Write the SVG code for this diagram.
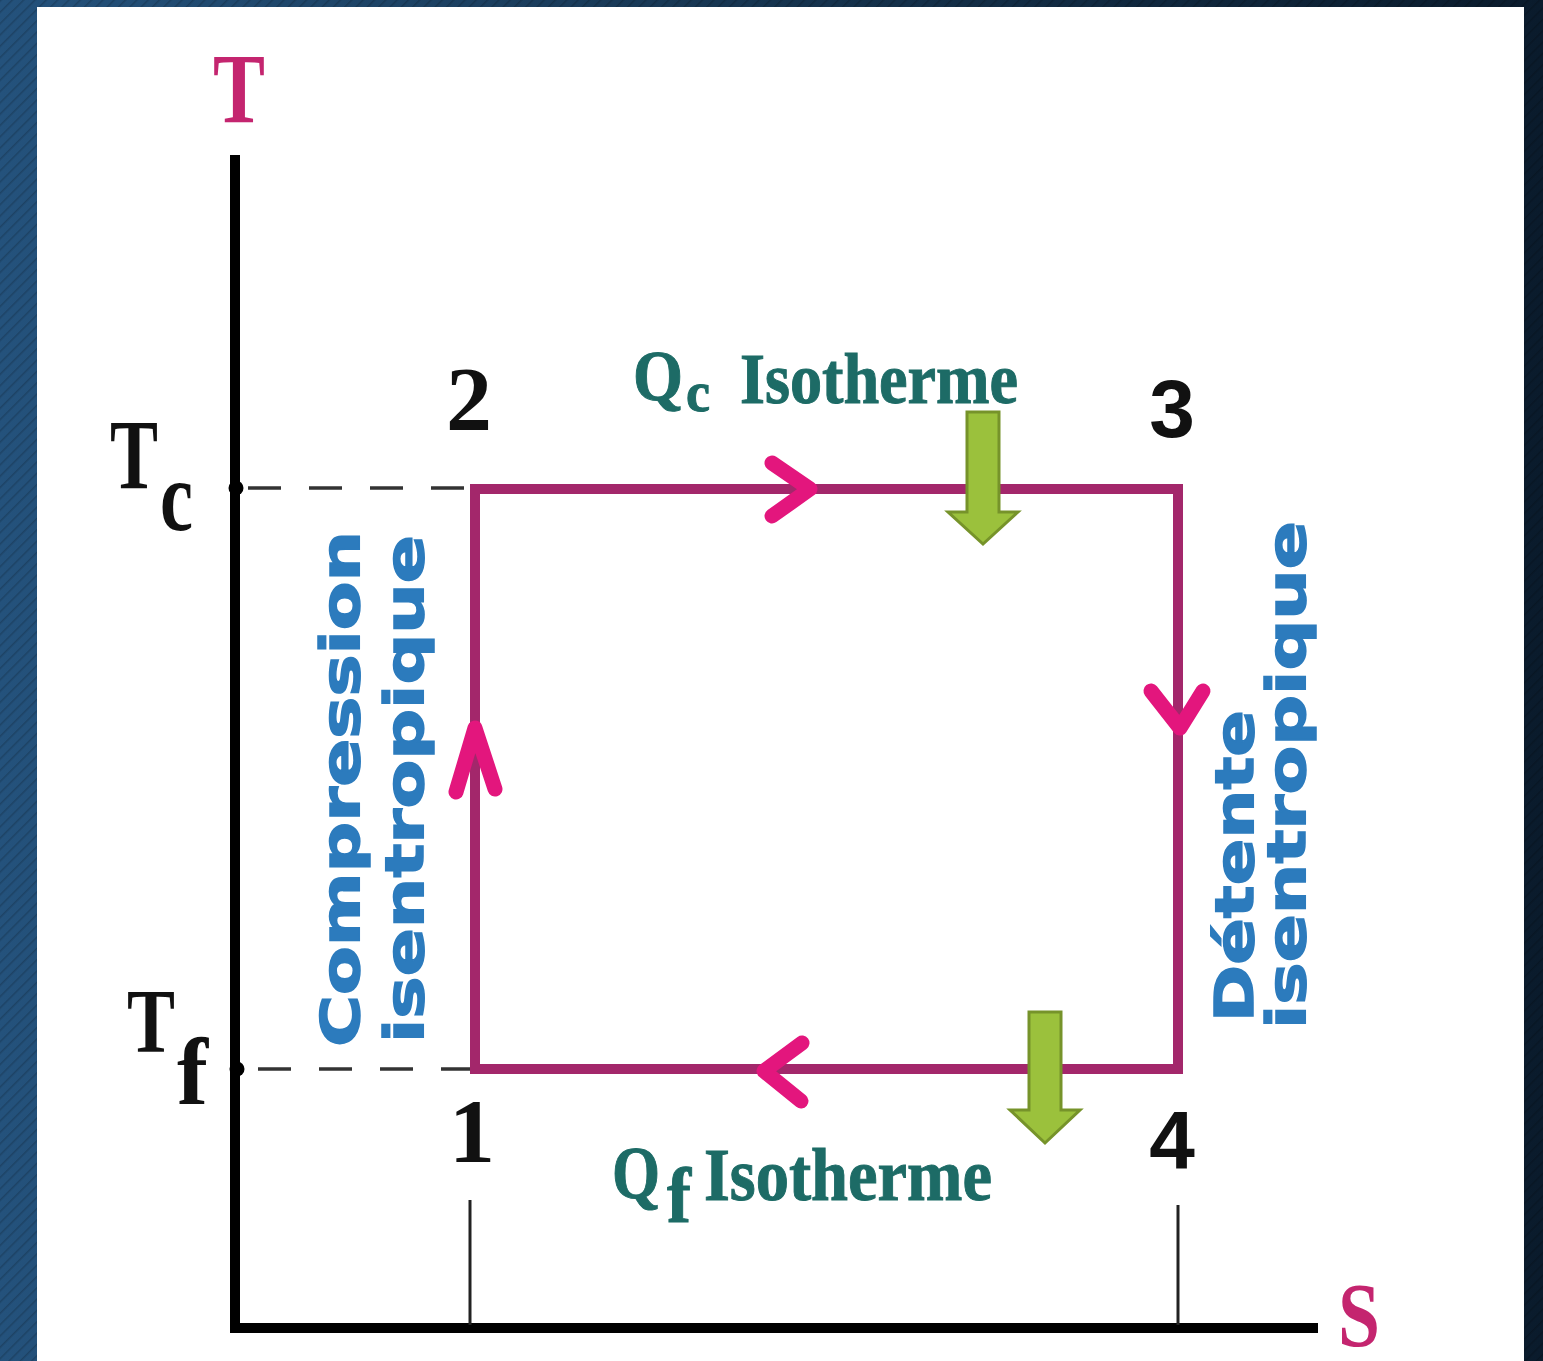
<svg xmlns="http://www.w3.org/2000/svg" width="1543" height="1361" viewBox="0 0 1543 1361">
<defs>
<linearGradient id="bg" x1="0" y1="0" x2="1" y2="0">
<stop offset="0" stop-color="#24527c"/>
<stop offset="0.5" stop-color="#16344f"/>
<stop offset="1" stop-color="#0a1b2c"/>
</linearGradient>
<pattern id="tex" width="8" height="8" patternUnits="userSpaceOnUse" patternTransform="rotate(45)">
<line x1="0" y1="0" x2="0" y2="8" stroke="#000" stroke-opacity="0.18" stroke-width="3"/>
</pattern>
</defs>
<style>
.serif{font-family:"Liberation Serif","Times New Roman",serif;font-weight:bold}
.sans{font-family:"Liberation Sans",Arial,sans-serif;font-weight:bold}
.vert{font-family:"DejaVu Sans","Liberation Sans",sans-serif;font-weight:bold;fill:#2c7bbd;stroke:#2c7bbd;stroke-width:1.5;font-size:54px}
.pink{fill:#c4256f}
.teal{fill:#1d6b66;stroke:#1d6b66;stroke-width:1}
.black{fill:#111}
.cycle{fill:none;stroke:#a3276b;stroke-width:10}
.chev{fill:none;stroke:#e3167d;stroke-width:15;stroke-linecap:round;stroke-linejoin:round}
.dash{stroke:#333;stroke-width:3.5;stroke-dasharray:33 28}
.axis{fill:none;stroke:#000;stroke-width:10;stroke-linejoin:miter}
.tick{stroke:#222;stroke-width:3}
.green{fill:#9bc13c;stroke:#76932a;stroke-width:3}
</style>
<rect x="0" y="0" width="1543" height="1361" fill="url(#bg)"/>
<rect x="0" y="0" width="1543" height="1361" fill="url(#tex)"/>
<rect x="37" y="7" width="1487" height="1354" fill="#ffffff"/>

<g id="axes">
<polyline class="axis" points="235,155 235,1328 1318,1328"/>
<text class="serif pink" x="213" y="122" font-size="100" textLength="52" lengthAdjust="spacingAndGlyphs">T</text>
<text class="serif pink" x="1338" y="1346" font-size="90" textLength="42" lengthAdjust="spacingAndGlyphs">S</text>
<line class="tick" x1="470" y1="1200" x2="470" y2="1325"/>
<line class="tick" x1="1178" y1="1205" x2="1178" y2="1325"/>
</g>

<g id="Tc">
<circle cx="236" cy="488" r="7.5" fill="#000"/>
<text class="serif black" x="110" y="488" font-size="100" textLength="48" lengthAdjust="spacingAndGlyphs">T</text>
<text class="serif black" x="160" y="530" font-size="100" textLength="33" lengthAdjust="spacingAndGlyphs">c</text>
</g>
<g id="Tf">
<circle cx="237" cy="1069" r="7.5" fill="#000"/>
<text class="serif black" x="127" y="1052" font-size="92" textLength="48" lengthAdjust="spacingAndGlyphs">T</text>
<text class="serif black" x="177" y="1104" font-size="96" textLength="31" lengthAdjust="spacingAndGlyphs">f</text>
</g>

<g id="connectors">
<line class="dash" x1="248" y1="488" x2="472" y2="488"/>
<line class="dash" x1="258" y1="1069" x2="472" y2="1069"/>
<rect class="cycle" x="475" y="489" width="703" height="580"/>
<polyline class="chev" points="772,463 810,489 772,516"/>
<polyline class="chev" points="1151,691 1180,728 1203,691"/>
<polyline class="chev" points="802,1043 764,1071 801,1101"/>
<polyline class="chev" points="456,792 475,728 495,789"/>
</g>

<g id="p2"><text class="serif black" x="469" y="430" font-size="92" text-anchor="middle">2</text></g>
<g id="p3"><text class="sans black" x="1172" y="437" font-size="82" text-anchor="middle">3</text></g>
<g id="p1"><text class="serif black" x="472" y="1162" font-size="92" text-anchor="middle">1</text></g>
<g id="p4"><text class="sans black" x="1172" y="1168" font-size="82" text-anchor="middle">4</text></g>

<g id="Qc">
<text class="serif teal" x="633" y="400" font-size="72" textLength="50" lengthAdjust="spacingAndGlyphs">Q</text>
<text class="serif teal" x="686" y="411" font-size="56" textLength="24" lengthAdjust="spacingAndGlyphs">c</text>
<text class="serif teal" x="740" y="403" font-size="72" textLength="278" lengthAdjust="spacingAndGlyphs">Isotherme</text>
</g>
<g id="Qf">
<text class="serif teal" x="612" y="1198" font-size="74" textLength="48" lengthAdjust="spacingAndGlyphs">Q</text>
<text class="serif teal" x="667" y="1222" font-size="78" textLength="24" lengthAdjust="spacingAndGlyphs">f</text>
<text class="serif teal" x="704" y="1200" font-size="74" textLength="288" lengthAdjust="spacingAndGlyphs">Isotherme</text>
</g>

<g id="compression">
<text class="vert" transform="translate(359,789) rotate(-90)" text-anchor="middle" textLength="516" lengthAdjust="spacingAndGlyphs">Compression</text>
<text class="vert" transform="translate(423,789) rotate(-90)" text-anchor="middle" textLength="508" lengthAdjust="spacingAndGlyphs">isentropique</text>
</g>
<g id="detente">
<text class="vert" transform="translate(1253,866) rotate(-90)" text-anchor="middle" textLength="312" lengthAdjust="spacingAndGlyphs">Détente</text>
<text class="vert" transform="translate(1305,775) rotate(-90)" text-anchor="middle" textLength="508" lengthAdjust="spacingAndGlyphs">isentropique</text>
</g>

<g id="heat-arrow-top">
<polygon class="green" points="967,412 999,412 999,512 1018,512 983,544 948,512 967,512"/>
</g>
<g id="heat-arrow-bottom">
<polygon class="green" points="1029,1012 1061,1012 1061,1110 1080,1110 1045,1143 1010,1110 1029,1110"/>
</g>
</svg>
